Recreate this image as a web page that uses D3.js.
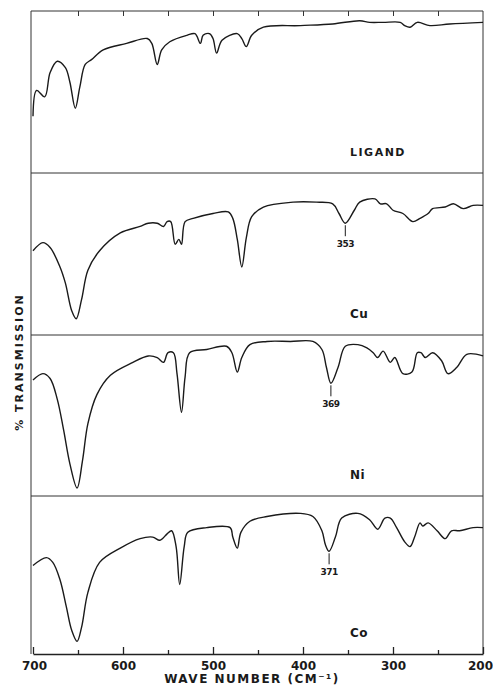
<!DOCTYPE html>
<html>
<head>
<meta charset="utf-8">
<script src="https://cdn.jsdelivr.net/npm/d3@7"></script>
<style>
  body { margin: 0; background: #fff; }
  text { font-family: "DejaVu Sans", sans-serif; font-weight: bold; fill: #1a1a1a; }
</style>
</head>
<body>
<div id="chart"></div>
<script>
// far IR spectra, 700-200 cm-1, four stacked traces
var panels = ["LIGAND", "Cu", "Ni", "Co"];

var ligandWn = [700, 696, 687, 681, 673, 664, 659, 653, 648, 642, 635, 622, 596, 573, 568, 562, 557, 548, 529, 520, 514, 511, 504, 500, 496, 490, 473, 468, 463, 457, 444, 403, 367, 337, 326, 311, 292, 287, 281, 273, 259, 237, 200];
var ligandT  = [35, 51, 47, 62, 69, 65, 56, 40, 53, 67, 70, 76, 80, 83, 80, 67, 76, 81, 85, 86, 80, 85, 86, 83, 74, 82, 86, 83, 78, 85, 90, 91, 92, 94, 93, 93, 93, 91, 90, 93, 91, 92, 93];

var cuWn = [700, 689, 681, 670, 664, 657, 652, 646, 639, 626, 603, 581, 572, 562, 555, 551, 547, 542, 538, 535, 531, 522, 500, 483, 478, 473, 468, 463, 457, 444, 411, 385, 367, 360, 353, 343, 337, 320, 314, 307, 300, 289, 278, 270, 261, 256, 242, 233, 222, 211, 200];
var cuT  = [52, 57, 54, 42, 32, 15, 10, 22, 40, 52, 63, 67, 69, 69, 67, 70, 70, 56, 59, 56, 70, 72, 75, 76, 72, 59, 42, 60, 73, 79, 82, 82, 81, 75, 69, 77, 82, 84, 81, 81, 77, 75, 70, 72, 75, 78, 79, 81, 78, 80, 80];

var niWn = [700, 689, 681, 673, 666, 659, 651, 645, 639, 629, 614, 589, 572, 562, 555, 550, 544, 540, 535, 531, 526, 507, 485, 479, 473, 468, 459, 440, 414, 389, 379, 374, 369, 361, 353, 339, 329, 322, 317, 311, 303, 298, 289, 279, 273, 269, 264, 256, 246, 239, 229, 218, 200];
var niT  = [72, 76, 73, 60, 41, 20, 5, 22, 45, 63, 75, 83, 87, 86, 83, 89, 89, 76, 52, 74, 89, 91, 93, 89, 77, 86, 94, 96, 96, 96, 91, 80, 70, 80, 93, 94, 92, 89, 86, 90, 83, 86, 76, 77, 89, 89, 86, 89, 84, 76, 80, 88, 87];

var coWn = [700, 685, 678, 670, 663, 657, 651, 646, 639, 626, 603, 581, 567, 559, 551, 546, 541, 537, 532, 528, 507, 481, 478, 473, 469, 459, 440, 403, 389, 379, 375, 371, 364, 357, 339, 326, 317, 309, 303, 296, 287, 281, 276, 270, 267, 261, 251, 242, 235, 226, 211, 200];
var coT  = [56, 61, 58, 47, 30, 15, 8, 17, 39, 58, 67, 73, 74, 72, 76, 78, 68, 44, 68, 77, 80, 80, 74, 67, 77, 84, 87, 89, 87, 78, 69, 65, 74, 86, 89, 85, 79, 86, 86, 80, 71, 68, 74, 83, 81, 83, 78, 73, 78, 78, 80, 80];

var peakPanel = [1, 2, 3];
var peakWn = [353, 369, 371];
var peakLabel = ["353", "369", "371"];

var majorTicks = [700, 600, 500, 400, 300, 200];
var minorTicks = [650, 550, 450, 350, 250];
var topTicks = [650, 600, 550, 500, 450, 400, 350, 300, 250];

var series = [
  ligandWn.map(function (w, i) { return [w, ligandT[i]]; }),
  cuWn.map(function (w, i) { return [w, cuT[i]]; }),
  niWn.map(function (w, i) { return [w, niT[i]]; }),
  coWn.map(function (w, i) { return [w, coT[i]]; })
];

var width = 493, height = 688;
var left = 33, right = 483;
var bounds = [11, 173, 335, 496, 654];

var svg = d3.select("#chart").append("svg").attr("width", width).attr("height", height);

var x = d3.scaleLinear().domain([700, 200]).range([left, right]);
var ys = panels.map(function (p, i) {
  return d3.scaleLinear().domain([0, 100]).range([bounds[i + 1], bounds[i]]);
});

// frame: left / right sides and the panel separators
svg.append("line").attr("x1", left - 2).attr("x2", left - 2).attr("y1", bounds[0]).attr("y2", bounds[4])
  .attr("stroke", "#333").attr("stroke-width", 1);
svg.append("line").attr("x1", right).attr("x2", right).attr("y1", bounds[0]).attr("y2", bounds[4])
  .attr("stroke", "#333").attr("stroke-width", 1);
svg.selectAll("line.sep").data(bounds.slice(0, 4)).enter().append("line").attr("class", "sep")
  .attr("x1", left - 2).attr("x2", right).attr("y1", function (d) { return d; }).attr("y2", function (d) { return d; })
  .attr("stroke", "#333").attr("stroke-width", 1);

// top ticks
svg.append("g").attr("transform", "translate(0," + bounds[0] + ")")
  .call(d3.axisBottom(x).tickValues(topTicks).tickSize(5).tickSizeOuter(0).tickFormat(""))
  .call(function (g) { g.select(".domain").remove(); g.selectAll("line").attr("stroke", "#333"); });

// bottom axis
var bottom = svg.append("g").attr("transform", "translate(0," + bounds[4] + ")");
bottom.call(d3.axisBottom(x).tickValues(majorTicks).tickSize(-7).tickSizeOuter(0).tickPadding(7).tickFormat(d3.format("d")))
  .call(function (g) {
    g.select(".domain").attr("stroke", "#222").attr("stroke-width", 1.5);
    g.selectAll("line").attr("stroke", "#222").attr("stroke-width", 1.3);
    g.selectAll("text").style("font-size", "12px").style("font-weight", "bold").attr("fill", "#1a1a1a")
      .attr("dx", function (d) { return d === 200 ? -3 : (d === 700 ? 1 : 0); });
  });
bottom.append("g").call(d3.axisBottom(x).tickValues(minorTicks).tickSize(-4).tickSizeOuter(0).tickFormat(""))
  .call(function (g) { g.select(".domain").remove(); g.selectAll("line").attr("stroke", "#222").attr("stroke-width", 1.3); });

svg.append("text").attr("x", 252).attr("y", 683).attr("text-anchor", "middle")
  .style("font-size", "12px").style("letter-spacing", "1.5px").text("WAVE NUMBER (CM⁻¹)");

svg.append("text").attr("transform", "translate(23,362) rotate(-90)").attr("text-anchor", "middle")
  .style("font-size", "11px").style("letter-spacing", "2px").text("% TRANSMISSION");

// traces
series.forEach(function (s, i) {
  var line = d3.line().x(function (d) { return x(d[0]); }).y(function (d) { return ys[i](d[1]); })
    .curve(d3.curveCatmullRom.alpha(0.5));
  svg.append("path").datum(s).attr("d", line).attr("fill", "none")
    .attr("stroke", "#1a1a1a").attr("stroke-width", 1.4).attr("stroke-linejoin", "round");
  svg.append("text").attr("x", 350).attr("y", bounds[i + 1] - 17)
    .style("font-size", i === 0 ? "11px" : "12px").style("letter-spacing", i === 0 ? "1.5px" : "0.5px")
    .text(panels[i]);
});

// peak markers
peakWn.forEach(function (w, k) {
  var p = peakPanel[k];
  var s = series[p];
  var v = s.filter(function (d) { return Math.abs(d[0] - w) < 3; })[0][1];
  var y0 = ys[p](v) + 2;
  svg.append("line").attr("x1", x(w)).attr("x2", x(w)).attr("y1", y0).attr("y2", y0 + 11)
    .attr("stroke", "#1a1a1a").attr("stroke-width", 1);
  svg.append("text").attr("x", x(w)).attr("y", y0 + 22).attr("text-anchor", "middle")
    .style("font-size", "9px").style("letter-spacing", "-0.5px").text(peakLabel[k]);
});
</script>
</body>
</html>
